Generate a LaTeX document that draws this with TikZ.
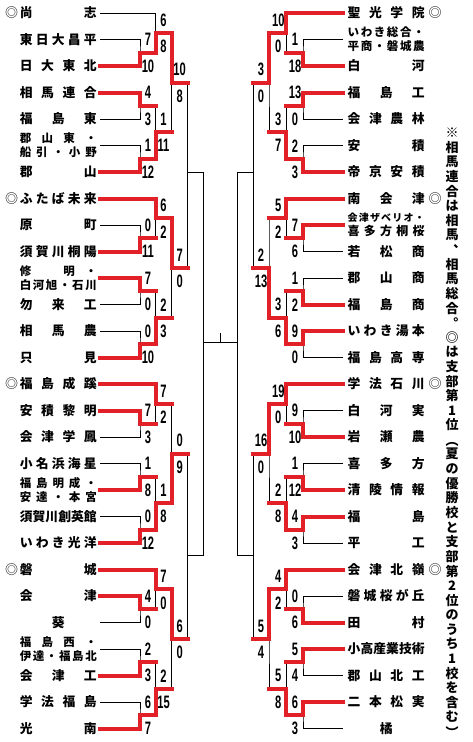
\documentclass[tikz,border=0pt]{standalone}
\usepackage{fontspec}
\usepackage{tikz}
\usetikzlibrary{calc}
\setmainfont{Noto Sans CJK JP}
\newfontfamily\numfont[FakeStretch=0.62]{Liberation Sans}
\definecolor{winred}{RGB}{226,32,40}
\pgfdeclarelayer{front}
\pgfsetlayers{main,front}
\newcommand{\tname}[1]{\makebox[77pt][s]{\spaceskip=0pt plus 1fil\relax #1}}
\newcommand{\ttwo}[3][11.5]{\vbox{\fontsize{#1}{14}\selectfont\hbox{\tname{#2}}\hbox{\tname{#3}}}}
\newcommand{\match}[8]{% name, top in, bottom in, join column, next column, scores, winner a/b
  \coordinate (#1m) at ($(#2)!0.5!(#3)$);
  \coordinate (#1) at (#1m -| #4);
  \coordinate (#1o) at (#1m -| #5);
  \draw[bline] (#2) -| (#1) |- (#3);
  \draw[bline] (#1) -- (#1o);
  \node[score] (#1sa) at ($(#1)!8pt!(#1o)+(0,-13)$) {#6};
  \node[score] (#1sb) at ($(#1)!8pt!(#1o)+(0,13.5)$) {#7};
  \begin{pgfonlayer}{front}
  \if a#8\draw[wline] (#2) -| (#1) -- (#1o);
  \else\draw[wline] (#3) -| (#1) -- (#1o);\fi
  \end{pgfonlayer}}

\begin{document}
\begin{tikzpicture}[x=1pt,y=-1pt,
    bline/.style={line width=0.9pt},
    wline/.style={winred, line width=4pt, line cap=rect},
    lname/.style={anchor=east, inner xsep=3pt, inner ysep=0pt, font=\bfseries\fontsize{12.8}{15}\selectfont},
    rname/.style={anchor=west, inner xsep=4.5pt, inner ysep=0pt, font=\bfseries\fontsize{12.8}{15}\selectfont},
    score/.style={font=\numfont\bfseries\fontsize{18}{18}\selectfont, inner sep=0pt},
    seedmark/.style={font=\fontsize{13}{13}\selectfont, inner sep=0pt},
    vnote/.style={font=\bfseries\fontsize{13}{13}\selectfont, inner sep=0pt}]
\useasboundingbox (0,0) rectangle (473,742);

% ---- columns
\coordinate (cL1) at (140,0);   \coordinate (cL2) at (155.5,0); \coordinate (cL3) at (171.7,0);
\coordinate (cL4) at (187.7,0); \coordinate (cL5) at (203.3,0);
\coordinate (cR1) at (303,0);   \coordinate (cR2) at (286.3,0); \coordinate (cR3) at (269,0);
\coordinate (cR4) at (253,0);   \coordinate (cR5) at (237.3,0);
\coordinate (ys1) at (0,172);   \coordinate (ys2) at (0,555);

% ---- teams, left
\foreach \i/\t in {1/尚 志, 2/東 日 大 昌 平, 3/日 大 東 北, 4/相 馬 連 合, 5/福 島 東, 7/郡 山,
    8/ふ た ば 未 来, 9/原 町, 10/須 賀 川 桐 陽, 12/勿 来 工, 13/相 馬 農, 14/只 見,
    15/福 島 成 蹊, 16/安 積 黎 明, 17/会 津 学 鳳, 18/小 名 浜 海 星, 20/須 賀 川 創 英 館, 21/い わ き 光 洋,
    22/磐 城, 23/会 津, 24/\hfil 葵\hfil, 26/会 津 工, 27/学 法 福 島, 28/光 南}
  \node[lname] (L\i) at (100,{13+(\i-1)*26.5}) {\tname{\t}};
\foreach \i/\t/\u in {6/郡 山 東 ・/船 引 ・ 小 野, 11/修 　 明 ・/白 河 旭 ・ 石 川,
    19/福 島 明 成 ・/安 達 ・ 本 宮, 25/福 島 西 ・/伊 達 ・ 福 島 北}
  \node[lname] (L\i) at (100,{13+(\i-1)*26.5}) {\ttwo{\t}{\u}};

% ---- teams, right
\foreach \i/\t in {1/聖 光 学 院, 3/白 河, 4/福 島 工, 5/会 津 農 林, 6/安 積, 7/帝 京 安 積,
    8/南 会 津, 10/若 松 商, 11/郡 山 商, 12/福 島 商, 13/い わ き 湯 本, 14/福 島 高 専,
    15/学 法 石 川, 16/白 河 実, 17/岩 瀬 農, 18/喜 多 方, 19/清 陵 情 報, 20/福 島, 21/平 工,
    22/会 津 北 嶺, 23/磐 城 桜 が 丘, 24/田 村, 25/小 高 産 業 技 術, 26/郡 山 北 工, 27/二 本 松 実, 28/\hfil 橘\hfil}
  \node[rname] (R\i) at (343,{13+(\i-1)*26.5}) {\tname{\t}};
\node[rname] (R2) at (343,39.5) {\ttwo{い わ き 総 合 ・}{平 商 ・ 磐 城 農}};
\node[rname] (R9) at (343,225) {\vbox{\fontsize{10}{13}\selectfont\hbox{\tname{会 津 ザ ベ リ オ ・}}%
  \fontsize{12}{14}\selectfont\hbox{\tname{喜 多 方 桐 桜}}}};

\foreach \i in {1,...,28}{
  \coordinate (pL\i) at (L\i.east);
  \coordinate (pR\i) at (R\i.west);}
\foreach \i in {1,8,15,22}{
  \node[seedmark] (sL\i) at (11.7,{13+(\i-1)*26.5}) {◎};
  \node[seedmark] (sR\i) at (435,{13+(\i-1)*26.5}) {◎};}

% ---- left, block 1
\match{mL1a}{pL2}{pL3}{cL1}{cL2}{7}{10}{b}
\match{mL1b}{pL4}{pL5}{cL1}{cL2}{4}{3}{a}
\match{mL1c}{pL6}{pL7}{cL1}{cL2}{1}{12}{b}
\match{mL1d}{pL1}{mL1ao}{cL2}{cL3}{6}{8}{b}
\match{mL1e}{mL1bo}{mL1co}{cL2}{cL3}{1}{11}{b}
\match{mL1f}{mL1do}{mL1eo}{cL3}{cL4}{10}{8}{a}
% ---- left, block 2
\match{mL2a}{pL9}{pL10}{cL1}{cL2}{0}{11}{b}
\match{mL2b}{pL11}{pL12}{cL1}{cL2}{7}{0}{a}
\match{mL2c}{pL13}{pL14}{cL1}{cL2}{0}{10}{b}
\match{mL2d}{pL8}{mL2ao}{cL2}{cL3}{6}{2}{a}
\match{mL2e}{mL2bo}{mL2co}{cL2}{cL3}{2}{3}{b}
\match{mL2f}{mL2do}{mL2eo}{cL3}{cL4}{7}{0}{a}
% ---- left, block 3
\match{mL3a}{pL16}{pL17}{cL1}{cL2}{7}{3}{a}
\match{mL3b}{pL18}{pL19}{cL1}{cL2}{1}{8}{b}
\match{mL3c}{pL20}{pL21}{cL1}{cL2}{0}{12}{b}
\match{mL3d}{pL15}{mL3ao}{cL2}{cL3}{7}{2}{a}
\match{mL3e}{mL3bo}{mL3co}{cL2}{cL3}{1}{8}{b}
\match{mL3f}{mL3do}{mL3eo}{cL3}{cL4}{0}{9}{b}
% ---- left, block 4
\match{mL4a}{pL23}{pL24}{cL1}{cL2}{4}{0}{a}
\match{mL4b}{pL25}{pL26}{cL1}{cL2}{2}{3}{b}
\match{mL4c}{pL27}{pL28}{cL1}{cL2}{6}{7}{b}
\match{mL4d}{pL22}{mL4ao}{cL2}{cL3}{7}{0}{a}
\match{mL4e}{mL4bo}{mL4co}{cL2}{cL3}{2}{15}{b}
\match{mL4f}{mL4do}{mL4eo}{cL3}{cL4}{6}{0}{a}

% ---- right, block 1
\match{mR1a}{pR2}{pR3}{cR1}{cR2}{1}{18}{b}
\match{mR1b}{pR4}{pR5}{cR1}{cR2}{13}{0}{a}
\match{mR1c}{pR6}{pR7}{cR1}{cR2}{2}{3}{b}
\match{mR1d}{pR1}{mR1ao}{cR2}{cR3}{10}{0}{a}
\match{mR1e}{mR1bo}{mR1co}{cR2}{cR3}{3}{7}{b}
\match{mR1f}{mR1do}{mR1eo}{cR3}{cR4}{3}{0}{a}
% ---- right, block 2
\match{mR2a}{pR9}{pR10}{cR1}{cR2}{7}{6}{a}
\match{mR2b}{pR11}{pR12}{cR1}{cR2}{1}{2}{b}
\match{mR2c}{pR13}{pR14}{cR1}{cR2}{9}{0}{a}
\match{mR2d}{pR8}{mR2ao}{cR2}{cR3}{5}{2}{a}
\match{mR2e}{mR2bo}{mR2co}{cR2}{cR3}{3}{6}{b}
\match{mR2f}{mR2do}{mR2eo}{cR3}{cR4}{2}{13}{b}
% ---- right, block 3
\match{mR3a}{pR16}{pR17}{cR1}{cR2}{9}{10}{b}
\match{mR3b}{pR18}{pR19}{cR1}{cR2}{1}{12}{b}
\match{mR3c}{pR20}{pR21}{cR1}{cR2}{4}{3}{a}
\match{mR3d}{pR15}{mR3ao}{cR2}{cR3}{19}{0}{a}
\match{mR3e}{mR3bo}{mR3co}{cR2}{cR3}{2}{8}{b}
\match{mR3f}{mR3do}{mR3eo}{cR3}{cR4}{16}{0}{a}
% ---- right, block 4
\match{mR4a}{pR23}{pR24}{cR1}{cR2}{0}{6}{b}
\match{mR4b}{pR25}{pR26}{cR1}{cR2}{5}{4}{a}
\match{mR4c}{pR27}{pR28}{cR1}{cR2}{6}{3}{a}
\match{mR4d}{pR22}{mR4ao}{cR2}{cR3}{4}{2}{a}
\match{mR4e}{mR4bo}{mR4co}{cR2}{cR3}{5}{8}{b}
\match{mR4f}{mR4do}{mR4eo}{cR3}{cR4}{5}{4}{a}

% ---- semifinals and final, still to play
\foreach \s in {L,R}{
  \coordinate (\s s1) at (m\s1fo |- ys1);
  \coordinate (\s s2) at (m\s3fo |- ys2);
  \coordinate (\s s1o) at (\s s1 -| c\s5);
  \coordinate (\s s2o) at (\s s2 -| c\s5);
  \draw[bline] (m\s1fo) -- (m\s2fo);
  \draw[bline] (m\s3fo) -- (m\s4fo);
  \draw[bline] (\s s1) -- (\s s1o) -- (\s s2o) -- (\s s2);}
\coordinate (fin) at (220.3,342);
\coordinate (fintop) at (220.3,333);
\draw[bline] (fin -| cL5) -- (fin -| cR5);
\draw[bline] (fin) -- (fintop);

% ---- note, set vertically (the opening bracket sits low in its cell)
\foreach \c [count=\k from 0] in {※,相,馬,連,合,は,相,馬,︑,相,馬,総,合,︒,◎,は,支,部,第,1,位,︵,夏,の,優,勝,校,と,支,部,第,2,位,の,う,ち,1,校,を,含,む,︶}
  \node[vnote] (v\k) at (452,{133+\k*14.6+5*(\k==21)}) {\c};
\end{tikzpicture}
\end{document}
